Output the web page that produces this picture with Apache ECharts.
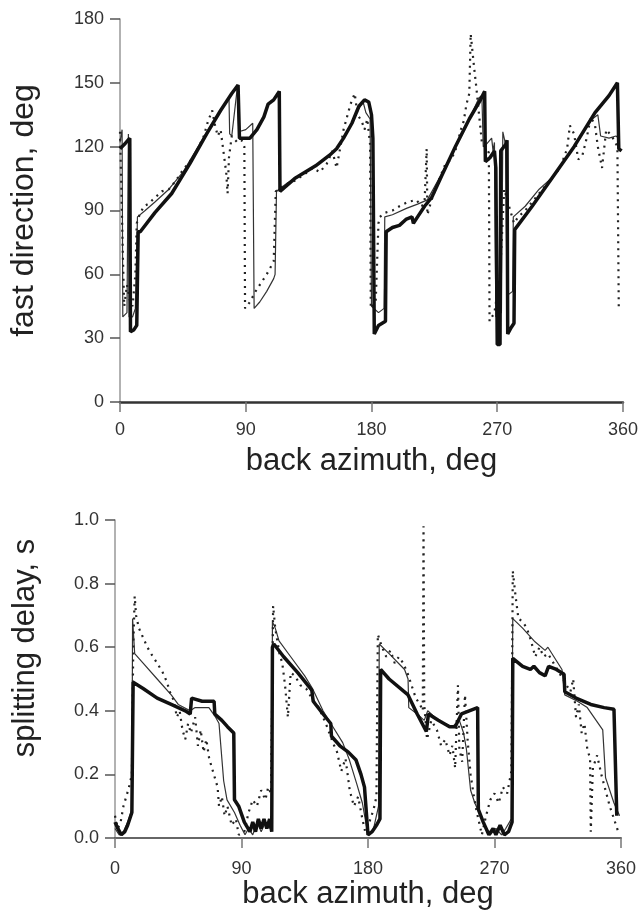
<!DOCTYPE html>
<html><head><meta charset="utf-8">
<script src="https://cdn.jsdelivr.net/npm/echarts@6/dist/echarts.min.js"></script>
<style>html,body{margin:0;padding:0;background:#fff}#c{width:641px;height:912px}</style>
</head><body><div id="c"></div>
<script>
// ---- tick labels ----
const azimuthTicks = [0, 90, 180, 270, 360];
const fastTicks = [0, 30, 60, 90, 120, 150, 180];
const delayTicks = [0, 0.2, 0.4, 0.6, 0.8, 1.0];

// ---- top panel: fast direction (deg) vs back azimuth (deg) ----
const fastThick = [[0,119],[3,121],[7,124],[7.5,33],[10,34],[12,36],[13,80],[14.5,80],[25,89],[37,98],[50,112],[62,126],[72,137],[80,145],[84.5,149],[85.5,124],[93,124],[98,128],[103,134],[106,140],[110,142],[114,146],[114.5,99],[125,105],[140,111],[150,116],[155,119],[160,124],[166,131],[171,139],[175,142],[178,141],[180,135],[181,124],[182,32],[185,36],[190,38],[190.5,80],[195,82],[200,83],[205,86],[209,87],[210,84],[213,87],[218,92],[223,96],[230,106],[240,120],[250,133],[258,142],[261,146],[261.5,113],[265,115],[268,118],[269,110],[270,27],[272,27],[272.5,118],[276,121],[277,123],[277.5,32],[280,35],[282,37],[282.5,81],[295,92],[310,106],[325,120],[340,136],[350,144],[356,150],[357,119],[359,118]];
const fastThin = [[0,122],[1.5,128],[2,40],[5,42],[6,126],[6.5,40],[9,40],[11,44],[12,44],[12.5,87],[18,90],[25,94],[35,100],[45,108],[55,119],[65,130],[75,140],[78,143],[78.5,126],[80,125],[84,148],[85,127],[90,128],[95,131],[96,44],[100,47],[105,52],[110,58],[111,60],[112,99],[120,103],[140,111],[155,119],[166,131],[171,138],[174,141],[176,136],[179,133],[180,45],[185,42],[189,44],[189.5,87],[195,88],[205,91],[213,93],[220,95],[230,107],[240,120],[250,133],[257,143],[259,144],[260,120],[262,121],[266,124],[267,118],[268,122],[269,40],[273,42],[274,127],[276,121],[277,50],[281,52],[281.5,87],[290,92],[300,100],[305,103],[310,106],[320,115],[330,125],[338,133],[342,135],[344,125],[350,124],[355,125],[357,124]];
const fastDot = [[0,127],[1,100],[2,70],[3,45],[5,55],[7,48],[9,45],[11,60],[12,84],[14,88],[17,92],[20,93],[25,96],[30,99],[35,100],[40,104],[45,109],[50,113],[55,118],[60,125],[63,132],[66,137],[68,130],[70,125],[72,128],[74,118],[76,108],[77,98],[78,115],[80,125],[84,122],[87,123],[89,120],[89.5,44],[93,47],[97,52],[101,56],[105,60],[110,66],[111.5,99],[118,102],[125,104],[132,107],[138,110],[143,108],[148,112],[152,118],[155,110],[160,128],[165,140],[168,145],[170,135],[173,132],[175,128],[177,133],[179,121],[179.5,44],[183,47],[185,84],[186,87],[190,89],[195,90],[200,92],[206,94],[212,95],[216,92],[218,94],[219.5,119],[220,88],[223,95],[228,104],[233,112],[237,114],[240,118],[244,128],[246,132],[248,140],[250,145],[251,173],[253,160],[255,148],[257,135],[259,122],[262,120],[264,117],[264.5,38],[268,42],[272,60],[275,100],[278,93],[282,84],[285,87],[290,90],[295,94],[300,98],[305,102],[310,106],[315,110],[320,119],[322,130],[325,126],[328,114],[331,116],[334,124],[337,134],[340,130],[342,120],[345,110],[348,128],[352,125],[356,120],[357,43]];

// ---- bottom panel: splitting delay (s) vs back azimuth (deg) ----
const delayThick = [[0,0.05],[2,0.03],[4.5,0.01],[7,0.02],[9,0.04],[12,0.08],[12.9,0.49],[20,0.47],[30,0.44],[40,0.42],[50,0.40],[53.5,0.39],[54.5,0.44],[62,0.43],[70.5,0.43],[71,0.39],[76,0.37],[80,0.35],[84.5,0.33],[85,0.12],[88,0.10],[92,0.05],[96,0.02],[98,0.05],[100,0.02],[102,0.06],[104,0.03],[106,0.06],[108,0.03],[110,0.06],[111.5,0.02],[112,0.60],[113,0.61],[120,0.57],[130,0.52],[140,0.465],[141,0.43],[148,0.39],[153.5,0.36],[154,0.32],[160,0.29],[166,0.27],[171.5,0.245],[175,0.20],[177.5,0.16],[180,0.01],[183,0.02],[186,0.04],[188.5,0.06],[189,0.53],[195,0.50],[208.5,0.45],[215,0.39],[221.5,0.335],[223,0.39],[230,0.37],[238,0.35],[242,0.35],[246.5,0.39],[252,0.40],[258,0.41],[258.5,0.09],[262,0.05],[266,0.01],[269,0.03],[271,0.01],[274,0.04],[277,0.01],[280,0.02],[282.5,0.05],[283,0.565],[290,0.54],[295.5,0.53],[298,0.54],[302,0.52],[306,0.51],[308.5,0.54],[314,0.53],[319.5,0.515],[320,0.46],[328,0.44],[338.5,0.42],[348,0.41],[355,0.405],[357,0.07]];
const delayThin = [[0,0.03],[3,0.01],[6,0.02],[9,0.05],[12,0.09],[12.5,0.69],[14,0.58],[20,0.55],[30,0.50],[40,0.45],[45,0.42],[53.5,0.40],[57,0.41],[66.8,0.41],[71.6,0.38],[74,0.36],[77.3,0.18],[79.7,0.12],[85,0.08],[89,0.04],[92.5,0.01],[95,0.03],[98,0.01],[101,0.05],[104,0.02],[107,0.05],[110,0.03],[111.5,0.07],[112,0.68],[114,0.66],[116.7,0.62],[125,0.57],[135,0.51],[140.5,0.47],[148,0.40],[155,0.35],[162,0.30],[166.8,0.245],[172,0.17],[176,0.11],[180,0.01],[184,0.03],[187.5,0.10],[188,0.61],[195,0.58],[206,0.53],[208.5,0.50],[209,0.41],[215,0.39],[220,0.37],[222.5,0.40],[230,0.37],[240,0.35],[245,0.37],[248,0.33],[250,0.28],[253,0.15],[256,0.11],[262,0.05],[267,0.01],[271,0.03],[275,0.01],[278,0.03],[282,0.06],[283,0.69],[290,0.66],[298.8,0.617],[306,0.59],[308,0.60],[318,0.53],[320,0.45],[329,0.43],[336,0.41],[347,0.34],[349,0.19],[355,0.11],[359,0.07]];
const delayDot = [[0,0.07],[2,0.03],[4,0.05],[6,0.10],[8,0.13],[10,0.16],[12,0.2],[12.5,0.4],[13,0.6],[14,0.76],[15,0.70],[17,0.66],[20,0.63],[23,0.60],[27,0.57],[30,0.55],[34,0.52],[37,0.49],[39,0.46],[42,0.43],[44,0.38],[46,0.40],[48,0.34],[50,0.31],[52,0.36],[54,0.33],[57,0.38],[59,0.29],[61,0.34],[63,0.27],[65,0.31],[67,0.25],[69,0.22],[71,0.19],[73,0.16],[74,0.10],[76,0.13],[78,0.07],[80,0.10],[83,0.04],[86,0.06],[88,0.01],[92,0.02],[95,0.08],[98,0.12],[101,0.10],[104,0.15],[107,0.12],[109,0.16],[111,0.14],[112,0.5],[112.5,0.73],[114,0.66],[117,0.58],[119,0.55],[121,0.48],[123,0.38],[125,0.52],[128,0.51],[132,0.48],[136,0.47],[140,0.44],[145,0.41],[150,0.36],[155,0.30],[158,0.27],[161,0.21],[164,0.25],[167,0.15],[170,0.10],[173,0.13],[176,0.06],[178,0.02],[181,0.05],[184,0.09],[186,0.13],[186.5,0.40],[187,0.64],[190,0.60],[193,0.57],[196,0.59],[199,0.55],[202,0.57],[205,0.55],[208,0.52],[211,0.48],[214,0.44],[217,0.42],[219,0.40],[219.5,0.98],[220,0.42],[222,0.31],[225,0.37],[229,0.34],[232,0.29],[235,0.31],[238,0.26],[240,0.29],[242,0.22],[244,0.48],[245,0.28],[247,0.24],[249,0.45],[251,0.30],[253,0.20],[255,0.14],[257,0.09],[259,0.05],[261,0.01],[264,0.07],[267,0.12],[270,0.14],[273,0.11],[276,0.16],[279,0.14],[282,0.21],[282.5,0.5],[283,0.84],[285,0.76],[287,0.69],[290,0.68],[293,0.66],[296,0.62],[299,0.57],[302,0.60],[305,0.57],[308,0.58],[312,0.55],[316,0.52],[320,0.49],[324,0.46],[326,0.50],[328,0.38],[330,0.42],[332,0.33],[334,0.36],[336,0.28],[338,0.25],[338.5,0.02],[340,0.22],[343,0.26],[346,0.20],[349,0.15],[352,0.10],[355,0.06],[358,0.02]];

const FONT = '"Liberation Sans", Arial, Helvetica, sans-serif';
const step = a => a[1] - a[0];

function xAx(grid, gap, lblMargin, lineColor, lineWidth) {
  return {
    type: 'value', gridIndex: grid,
    min: azimuthTicks[0], max: azimuthTicks[azimuthTicks.length - 1], interval: step(azimuthTicks),
    axisLine: { show: true, onZero: false, lineStyle: { color: lineColor, width: lineWidth } },
    axisTick: { show: true, length: 10, lineStyle: { color: '#777', width: 1.5 } },
    axisLabel: { margin: lblMargin, fontSize: 18, color: '#333', fontFamily: FONT },
    splitLine: { show: false },
    name: 'back azimuth, deg', nameLocation: 'middle', nameGap: gap,
    nameTextStyle: { fontSize: 31, color: '#222', fontFamily: FONT }
  };
}
function yAx(grid, ticks, name, gap, fmt, nameSize, pad) {
  return {
    type: 'value', gridIndex: grid,
    min: ticks[0], max: ticks[ticks.length - 1], interval: step(ticks),
    axisLine: { show: true, lineStyle: { color: '#999', width: 1.5 } },
    axisTick: { show: true, length: 10, lineStyle: { color: '#555', width: 1.5 } },
    axisLabel: { margin: 16, fontSize: 18, color: '#333', fontFamily: FONT, formatter: fmt },
    splitLine: { show: false },
    name: name, nameLocation: 'middle', nameGap: gap,
    nameTextStyle: { fontSize: nameSize, color: '#222', fontFamily: FONT, padding: pad }
  };
}
function ln(data, xi, kind) {
  const styles = {
    thick: { color: '#111', width: 3.5, type: 'solid' },
    thin: { color: '#333', width: 1.2, type: 'solid' },
    dot: { color: '#222', width: 2.2, type: [2, 5] }
  };
  return {
    type: 'line', xAxisIndex: xi, yAxisIndex: xi, data: data,
    showSymbol: false, symbol: 'none', lineStyle: styles[kind], z: kind === 'thick' ? 3 : 2,
    silent: true
  };
}

const chart = echarts.init(document.getElementById('c'), null, { renderer: 'canvas' });
chart.setOption({
  animation: false,
  backgroundColor: '#fff',
  grid: [
    { left: 119, right: 17, top: 19, height: 383 },
    { left: 115, right: 20, top: 520, height: 318 }
  ],
  xAxis: [xAx(0, 44, 19, '#333', 2.5), xAx(1, 37, 22, '#666', 2)],
  yAxis: [
    yAx(0, fastTicks, 'fast direction, deg', 80, v => String(v), 32, [0, 0, 0, 0]),
    yAx(1, delayTicks, 'splitting delay, s', 74, v => v.toFixed(1), 31, [0, 0, 0, 62])
  ],
  series: [
    ln(fastThin, 0, 'thin'), ln(fastDot, 0, 'dot'), ln(fastThick, 0, 'thick'),
    ln(delayThin, 1, 'thin'), ln(delayDot, 1, 'dot'), ln(delayThick, 1, 'thick')
  ]
});
</script></body></html>
